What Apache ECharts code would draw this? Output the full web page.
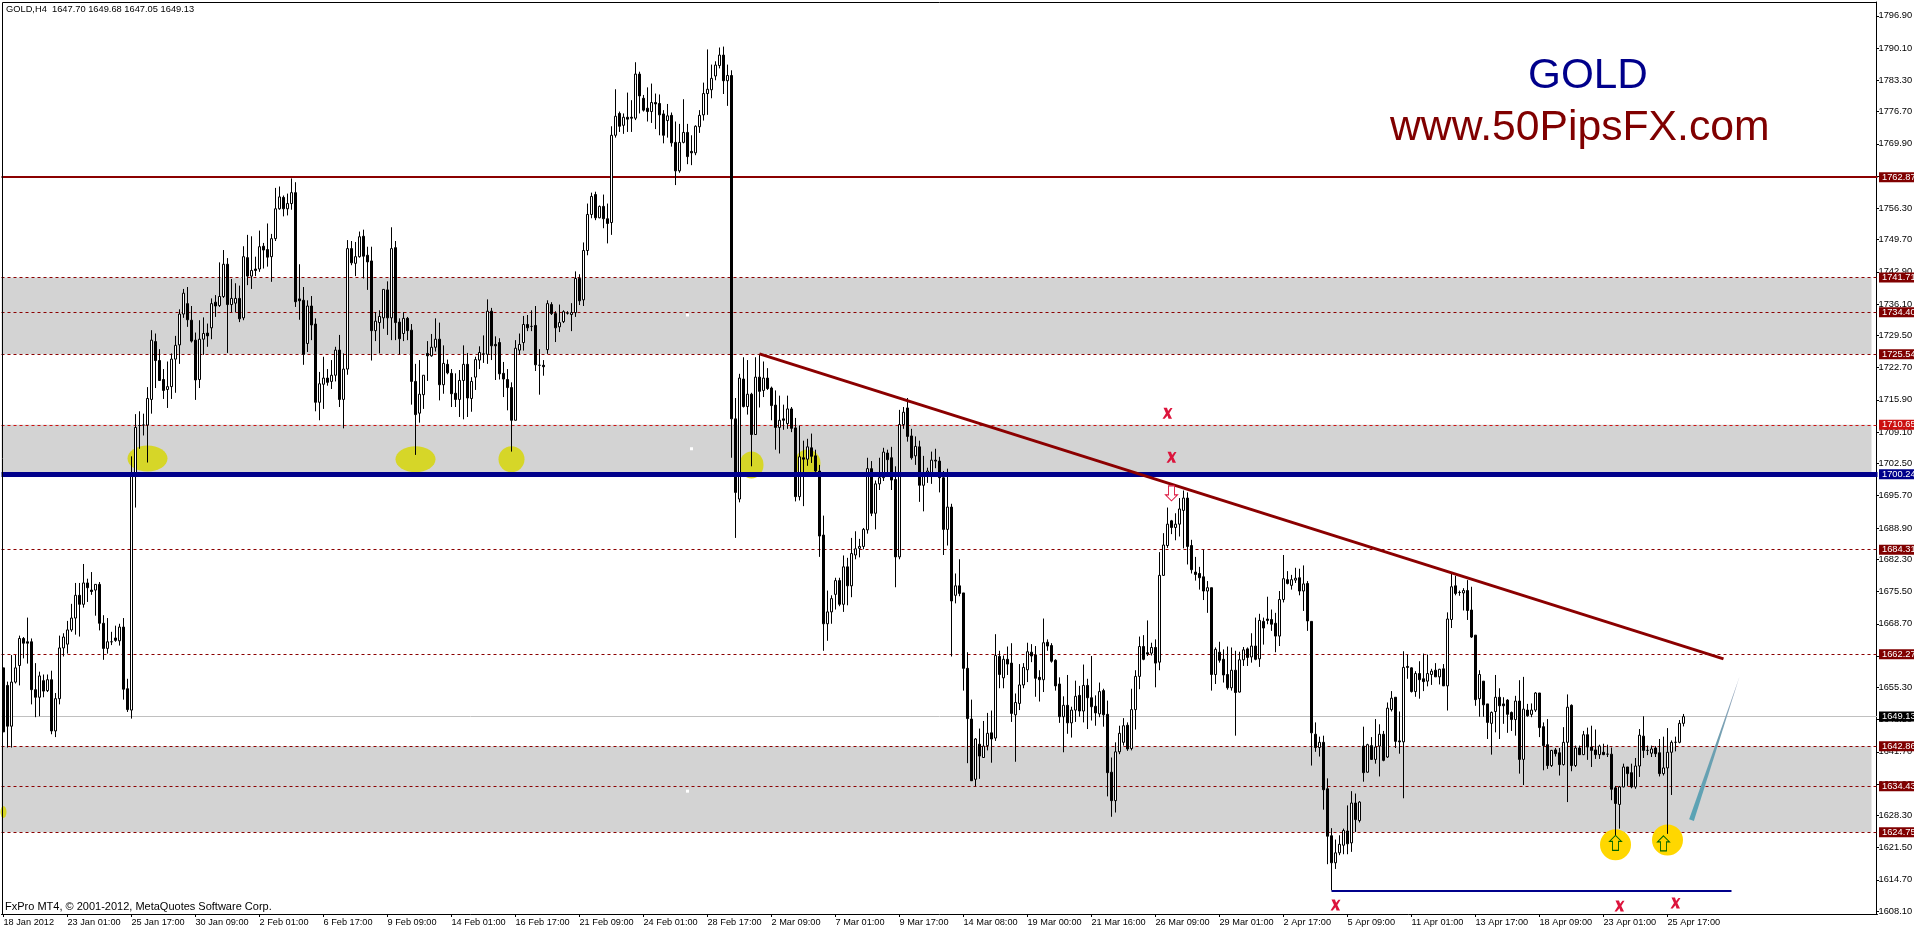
<!DOCTYPE html>
<html>
<head>
<meta charset="utf-8">
<title>GOLD H4</title>
<script src="https://cdn.jsdelivr.net/npm/echarts@6/dist/echarts.min.js"></script>
<style>html,body{margin:0;padding:0;background:#fff}#c{width:1914px;height:931px}</style>
</head>
<body>
<div id="c"></div>
<script>
// Each row: [open, close, low, high]
const janBars = [
[1659.4,1645.9,1645.9,1659.4],[1655.7,1647.1,1642.6,1656.5],[1647.1,1656.4,1642.6,1662.1],[1656.4,1659.4,1656.1,1662.1],
[1659.9,1665.6,1655.7,1666.2],[1665.6,1664.6,1661.4,1665.9],[1664.9,1664.6,1660.3,1670],[1664.9,1654.8,1651.7,1665.6],
[1654.8,1653.2,1649,1660.4],[1653.2,1657.7,1649.2,1658.6],[1656.7,1654.5,1653.2,1658],[1654.6,1656.9,1654.3,1658],
[1656.9,1646.1,1645.4,1658.8],[1646.1,1652.9,1644.8,1654.1],[1652.9,1663.6,1651.7,1666.2],[1663.6,1665.9,1661.8,1666.7],
[1664.4,1667.4,1662.4,1669.3],[1667.4,1669.9,1667,1672.9],[1669.9,1674.7,1666.4,1677.3],[1674.7,1672.8,1666,1677.3],
[1672.8,1677.3,1672.1,1681.3],[1677.3,1676.3,1673.3,1678.2],[1675.8,1675.5,1674.8,1679.6],[1675.8,1677,1670.4,1677],
[1677,1668.8,1667.3,1677.5],[1668.8,1663.5,1661.1,1670.5],[1663.5,1664.9,1662.4,1669.9],[1664.9,1664.9,1664.2,1667],
[1665.7,1665.2,1664.9,1668.3],[1665.1,1668,1664.1,1668.7],[1668,1654.9,1652.7,1669.9],[1655,1650.6,1650.1,1657.1],
[1650.5,1700,1648.7,1704],[1700,1710.1,1693.2,1712.9],[1710.5,1710.5,1705.6,1713.5],[1710.6,1710.6,1708.4,1713],
[1710.6,1716.2,1702.7,1718.6],[1716,1728.5,1713,1730.6],[1728.2,1724.2,1718.4,1729.9],[1724.2,1720,1719.9,1726.6],
[1720.2,1717.9,1716.1,1722.4],[1718.1,1718.7,1714.2,1724],[1718.7,1724.5,1716.1,1725.7],[1724.5,1727.4,1717.4,1729.4],
[1727.5,1734,1723.5,1735],[1734,1738.4,1733.2,1739.3],[1736.2,1732.8,1731.3,1739.7],[1732.7,1728.3,1728,1735.7],
[1728.5,1720.1,1715.9,1730.1],[1720.2,1728.7,1718.4,1732.7],[1728.7,1729.9,1725.4,1733.3],[1730,1729.4,1727.1,1732],
[1731.1,1736.2,1728.7,1737.3],[1736.5,1735.7,1733.4,1738],[1735.8,1737.7,1735.5,1744.9],[1737.7,1744.5,1737.4,1747.5],
[1744.5,1736,1725.8,1745.8],[1736,1737.3,1734.4,1741.4],[1736.3,1737.3,1734.4,1740.5],[1737.3,1733,1732.3,1740]
];
const febBars = [
[1733.2,1746.1,1732.7,1748.3],[1745.9,1742,1740.1,1750.7],[1742,1743.2,1739.3,1750.4],[1743.5,1743.2,1742,1746.1],
[1743.5,1748.2,1742.9,1751.6],[1748.3,1747.5,1743.6,1749],[1747.6,1746,1744,1753.1],[1746.1,1749.9,1740.8,1750.9],
[1749.9,1756.2,1749.4,1760.6],[1756.2,1758.7,1756,1760.9],[1758.6,1756.2,1754.6,1759],[1756.2,1757.3,1754.8,1759.4],
[1757.3,1759.6,1756,1762.6],[1759.6,1736.6,1735.5,1761.8],[1737.2,1736.8,1732.8,1744.5],[1736.9,1725.5,1723.3,1739.7],
[1727.8,1735.7,1726,1736.9],[1735.7,1731.7,1728.5,1737.8],[1731.9,1715.4,1713.5,1733.1],[1715.4,1719.3,1711.6,1721.8],
[1719.2,1720.5,1714,1725],[1720.5,1719.6,1718.9,1722.4],[1719.8,1721.1,1718.2,1724.3],[1721.1,1726.4,1719.8,1727.1],
[1726.4,1716,1714.4,1729.6],[1716,1722.4,1709.9,1725.7],[1722.4,1747.8,1721.2,1749.6],[1747.8,1744.8,1744.3,1749.4],
[1744.7,1746.1,1742,1749.2],[1746.1,1750.3,1745.9,1751.4],[1750.4,1746.2,1741.5,1751.8],[1746.4,1745,1739.1,1748.2],
[1745.2,1730.5,1724.2,1748.2],[1730.5,1732.5,1728.3,1734.4],[1732.2,1733.5,1725.7,1734.8],[1733.2,1739.2,1730.9,1739.2],
[1739.1,1733.2,1729.6,1740.9],[1733.2,1747.8,1728.5,1752.3],[1748,1732.2,1728.5,1749.4],[1732.3,1728.8,1725.5,1733.1],
[1729.9,1733.1,1728.3,1734.4],[1733.1,1730.5,1728.5,1733.4],[1730.6,1719.8,1714.9,1731.9],[1719.8,1712.8,1704.3,1723.5],
[1713.1,1717.1,1711.1,1724.3],[1717,1721.1,1714,1721.1],[1725.7,1725.2,1719.9,1728.3],[1725.2,1727,1725,1729.8],
[1727,1728.7,1726.1,1733.1],[1728.7,1719.1,1715.8,1732.2],[1719.1,1723.6,1717.2,1727.4],[1723.4,1721.6,1721.3,1724.4],
[1721.5,1717.2,1714.4,1722.4],[1717.3,1716,1714.4,1721.5],[1716,1720,1712.3,1722.2],[1720,1723.4,1711.8,1727.4],
[1723.4,1716.3,1712.3,1725.8],[1716.2,1719.8,1713.4,1720.7],[1720.7,1724.4,1718,1725],[1724.3,1725.9,1722.4,1727.2],
[1725.6,1725.6,1723.7,1729.5],[1725.5,1734.6,1723.5,1737.1],[1734.6,1727.3,1724.3,1735.3],[1727.6,1727.3,1720.1,1729.3],
[1728,1721.4,1720.2,1728.9],[1721.5,1720.3,1716.5,1723.9],[1720.2,1718.5,1713.7,1722.4],[1718.5,1711.6,1705,1719.6],
[1711.6,1726.8,1711.6,1728.5],[1726.4,1727.6,1725.4,1729.9],[1728,1731.8,1726.3,1733.6],[1731.8,1731.1,1730.4,1733.8],
[1731.4,1731.4,1730.4,1734.8],[1731.6,1723.3,1722,1735.7],[1723.2,1723.2,1717,1726.6],[1723.2,1722.9,1721,1724.3],
[1726.5,1736.2,1725.6,1736.9],[1736,1734.1,1733.8,1736.5],[1734.1,1731.1,1728.1,1734.6],[1731.3,1732.2,1730.2,1736],
[1732.4,1734.5,1732.1,1734.8],[1734.2,1734.2,1733.9,1734.6],[1733.9,1734.3,1730.4,1736.3],[1734.3,1741.5,1733.4,1743],
[1741.5,1736.8,1735.9,1742.4],[1737,1747.4,1735.7,1749.1],[1747.4,1755,1746.4,1757.3],[1755,1758.8,1754.2,1759.6],
[1759.2,1754.3,1753.8,1759.8],[1754.3,1756.7,1754.2,1756.9],[1756.7,1754.1,1752.1,1759.2],[1754.1,1753.1,1748.9,1757.3],
[1753.3,1771.7,1750.7,1773.6],[1771.7,1775.7,1771.2,1781.4],[1776.3,1773.6,1772.4,1776.7],[1773.8,1775.5,1772,1776.3],
[1775.5,1775.1,1772.4,1780.7],[1775.5,1775.3,1772.4,1779.1],[1775.3,1784.6,1774.9,1787.1],[1784.6,1780,1776.3,1785.1],
[1779.5,1777,1776.7,1780.2],[1777.4,1776.7,1774.6,1781.8],[1776.7,1778.6,1774.3,1782.6],[1778.6,1778.3,1773,1780.5],
[1778.4,1776,1771.7,1780.3],[1776.2,1771.7,1770,1777],[1774.8,1775.8,1771.2,1778.3],[1775.9,1770.1,1769.3,1776.5],
[1770.2,1764.2,1761.2,1774.6],[1764.2,1770.2,1763.8,1774.1],[1770.2,1772.3,1770,1779.3],[1772.3,1767.2,1765.6,1774.1],
[1768.3,1768,1765.4,1771.7],[1768,1773.6,1767.5,1773.8],[1773.5,1775.9,1772.2,1777],[1776,1780.5,1774.8,1782.8],
[1780.5,1781.4,1776,1789.8],[1781.3,1783.7,1779.5,1786.6],[1784.2,1786.5,1783.3,1787.3],[1786.4,1788.6,1785.8,1790.2],
[1788.6,1783.2,1780.4,1790.4],[1783.2,1784.3,1777.9,1786.6],[1784.3,1711.9,1703.7,1785.4],[1711.9,1696.4,1686.8,1716.3],
[1695,1720.5,1694.3,1721.4],[1720.3,1714.5,1714.3,1724.9]
];
const marBars = [
[1714.5,1717.1,1712.8,1724.3],[1717.1,1708.6,1701.9,1717.4],[1708.6,1720.7,1708.6,1724.9],[1720.7,1717.7,1714.3,1725.6],
[1717.9,1720.5,1716.5,1724],[1720.5,1718.3,1718,1722.6],[1718.4,1714.7,1711.6,1718.7],[1714.8,1710.1,1705.4,1717.9],
[1710.1,1711.6,1704.6,1716.8],[1711.9,1711.6,1709.6,1714.9],[1710.9,1714,1709.8,1716.8],[1714,1709.9,1709.1,1714.4],
[1710,1695.5,1694.5,1712.1],[1695.5,1703.9,1694.7,1710.5],[1703.7,1703.4,1693.5,1707.3],[1703.4,1706,1702,1707.7],
[1705.8,1704,1702.6,1708.8],[1704.1,1700.9,1700.5,1705.4],[1700.9,1687.2,1682.8,1702.2],[1687.4,1668.7,1663,1691.5],
[1668.7,1671.2,1665.1,1675.7],[1671.2,1674,1668.7,1674.7],[1674.9,1677.8,1671.7,1678.4],[1677.8,1672.8,1672.4,1678.4],
[1672.8,1680.7,1671.2,1683.1],[1680.7,1676.7,1672.6,1682.6],[1676.7,1683.5,1674.3,1686.8],[1683.2,1684.5,1682.3,1688.2],
[1684.6,1685,1682.7,1686.6],[1685,1688.6,1684.4,1688.9],[1688.5,1701.4,1687.7,1703.7],[1701.4,1692,1691.4,1703],
[1692,1698.2,1688.6,1698.9],[1698.2,1699.5,1696.9,1703.7],[1699.5,1704.9,1698.8,1705.8],[1704.7,1703.3,1700.1,1705.4],
[1703.7,1699,1696.9,1706],[1699.1,1682.8,1676.4,1701.9],[1682.8,1710.7,1682.3,1713.8],[1710.7,1713.3,1709.8,1714.4],
[1714.2,1708.2,1707.1,1716.3],[1708.3,1703.7,1703.3,1709.8],[1704.1,1706.1,1702.2,1708.2],[1706,1697.9,1694.4,1707.3],
[1697.9,1700.5,1692.4,1704.1],[1700.5,1700.9,1698.4,1701.6],[1700.6,1703.2,1698.2,1705],[1703.2,1703,1701.5,1705.6],
[1703,1699.5,1696.4,1703.9],[1699.5,1688.6,1683.2,1700.9],[1688.6,1693.3,1685.2,1701.4],[1693.3,1673.5,1661.8,1694],
[1674.7,1676.7,1673,1679.3],[1676.7,1675.1,1674.5,1682.3],[1675.2,1659.3,1654.6,1675.2],[1659.3,1648.7,1639.3,1662.7],
[1648.6,1635.6,1635.6,1652.7],[1635.9,1644.4,1634.4,1644.6],[1643.3,1640.8,1636,1646.6],[1640.5,1642.9,1640.5,1648.2],
[1643,1645.6,1642,1649.9],[1645.7,1644.4,1639.4,1650.4],[1644.6,1662,1644,1666.5],[1661.8,1658,1655.1,1663],
[1657.3,1661.2,1655.1,1662],[1661.2,1660.2,1657.9,1663.9],[1660.4,1649.8,1648,1664.6],[1649.5,1652.1,1639.6,1654],
[1651.9,1655.8,1650.5,1660.2],[1655.8,1659.5,1655.1,1660.4],[1659,1662.8,1656.4,1664.7],[1662.7,1661.9,1660.6,1664.4],
[1662.1,1657.2,1653.3,1664],[1657.4,1656.9,1652.3,1658.9],[1656.9,1664.7,1654.3,1669.8],[1664.8,1664,1663,1665.4],
[1664.1,1660.8,1660.5,1664.6],[1661,1655.6,1654.6,1661.2],[1656,1649.1,1647.8,1657.4],[1649.1,1651.5,1641.6,1653.4],
[1651.5,1647.8,1645.5,1657.9],[1647.8,1650.5,1644.7,1651.2],[1650.5,1653.4,1648,1656.7],[1653.6,1650.3,1649.1,1655.6],
[1650.3,1655.7,1647.9,1660.1],[1655.7,1653.1,1646.5,1657.1],[1653.1,1651.2,1648.3,1661.9],[1651.3,1649.9,1647.2,1653.6],
[1649.7,1654.4,1649,1656.3],[1654.6,1649.5,1647,1655],[1649.6,1637.3,1632.3,1652.5],[1637.4,1631.4,1628,1640.5],
[1631.4,1641.7,1628.9,1643.7],[1641.7,1645.6,1641.2,1647.2],[1643.7,1647.2,1643,1648.8],[1647.3,1642.3,1641.9,1647.9],
[1642.4,1650.6,1642,1655],[1650.6,1657.6,1646.4,1658.9],[1657.6,1663.9,1654.9,1666],[1663.9,1661.2,1661,1666.3],
[1662.6,1662.3,1661.9,1669.4],[1662.5,1663.7,1662,1664.7],[1663.7,1660.4,1655.3,1665.4],[1660.6,1678.9,1658.9,1683.8],
[1678.9,1685.3,1678.8,1687.8],[1685.2,1689.7,1684.7,1693.2],[1690.4,1689,1687.6,1690.6],[1689,1689.7,1686.3,1692],
[1689.7,1692.9,1687.1,1695.2],[1692.6,1695.2,1684.6,1696.8],[1695.2,1685,1681.2,1696.4],[1685.2,1680.1,1679.3,1686.4],
[1679.6,1679.1,1677.8,1682.8],[1679.3,1678.4,1675.9,1680.7],[1678.6,1675.6,1673.7,1684.3],[1675.6,1676.3,1671,1677.7],
[1676.3,1658,1654.6,1676.3],[1658,1663.3,1656,1663.7],[1662.7,1661,1660.5,1664.9],[1661.2,1657.9,1656.3,1663.3],
[1658,1655.2,1654.8,1663.9],[1655.2,1658.9,1654.6,1663.7],[1658.9,1654.2,1645.1,1663],[1654.3,1661.1,1654.2,1662.8],
[1661.1,1663.2,1659.8,1663.8],[1663.4,1661.6,1659.8,1663.7],[1661.7,1664,1660.5,1666.7],[1664,1661.2,1661,1670],
[1661.3,1669.4,1659.6,1670.8],[1669.2,1667.8,1664.3,1670]
];
const aprBars = [
[1669.7,1669.4,1668.6,1674.4],[1669.6,1668.6,1667.2,1671.7],[1668.8,1666.1,1662.7,1671],[1666.1,1673.8,1664,1675.6],
[1673.8,1678.2,1673.2,1683.2],[1678,1677.2,1677,1679.8],[1676.8,1678,1675.9,1679],[1677.9,1678.3,1677.3,1680.5],
[1678.4,1675.6,1674.7,1680.3],[1675.6,1677.1,1671.4,1681],[1677.2,1669.3,1667.2,1677.7],[1669.2,1645.7,1638.8,1669.2],
[1645.4,1642.6,1641.7,1647.9],[1642.6,1643.7,1640.7,1644.9],[1643.7,1633.7,1629.5,1645.1],[1633.9,1623.9,1618,1636.1],
[1624,1618.3,1612.5,1625.6],[1618.3,1620.4,1617,1623.2],[1620.4,1622.2,1619.9,1624.1],[1622,1625.1,1620.1,1625.5],
[1625,1622.3,1620.1,1630.4],[1622.5,1630.9,1620.6,1633.4],[1630.9,1627.4,1624.8,1632.9],[1627.2,1631.1,1626.8,1631.3],
[1642.9,1637.3,1635.4,1647],[1637.4,1643.2,1637.3,1643.4],[1643,1640.1,1640,1644.8],[1640.1,1642.7,1639.2,1648.6],
[1642.9,1645.4,1636.5,1647.5],[1645.4,1639.9,1639.7,1646.1],[1640.6,1650.9,1640.4,1652.1],[1650.6,1653,1650.2,1654.5],
[1653.2,1643.9,1642.5,1653.2],[1644,1643.8,1641.3,1650.2],[1643.8,1659.5,1631.9,1662.9],[1659.7,1659.5,1657.1,1662.2],
[1659.4,1654.4,1654.2,1659.5],[1654.4,1658.2,1653.3,1658.7],[1658.2,1656.9,1652.9,1660.8],[1657.1,1656.5,1654.5,1662.4],
[1656.6,1658.2,1655.5,1662.2],[1658,1658.7,1655.8,1659.2],[1658.9,1657.5,1657.5,1660.4],[1657.5,1659.1,1655.9,1659.2],
[1659.2,1655.6,1655.6,1660.2],[1655.6,1669.7,1650.4,1671.1],[1669.6,1676.5,1667.8,1679.4],[1676.7,1675.1,1674.7,1678.8],
[1675.3,1675.3,1674.6,1675.7],[1675.2,1675.7,1671.5,1676.2],[1675.7,1671.5,1669.5,1677.9],[1671.6,1665.9,1665.7,1676.5],
[1666.3,1652.7,1651.4,1666.3],[1652.9,1658,1649.1,1658.9],[1656.6,1651.6,1649.1,1656.6],[1651.8,1647.9,1644.4,1651.8],
[1647.7,1650,1641.1,1650.2],[1650.2,1653.2,1645.8,1657.9],[1653.2,1651.4,1644.4,1655.1],[1651.8,1651.4,1647.6,1653.2],
[1652.6,1649.6,1645.7,1652.8],[1650,1648.5,1646.1,1650.2],[1648.5,1652.4,1645.1,1653.5],[1652.4,1640.1,1637.1,1656.8],
[1640.1,1650.7,1634.7,1657.5],[1650.5,1649.3,1649.1,1651.8],[1649.6,1650.5,1649,1651.9],[1650.5,1654.1,1650.1,1654.3],
[1654.1,1646.8,1644.8,1654.1],[1647,1643,1637.8,1647.9],[1643.2,1638.8,1638.1,1648.6],[1638.8,1642,1638.5,1642.1],
[1642.1,1641.3,1640.7,1642.5],[1641.5,1639,1636.7,1642.5],[1639,1643.7,1638.8,1646.9],[1643.7,1651.1,1631.1,1653.8],
[1651.5,1638.8,1637.6,1651.7],[1638.8,1642.5,1638.5,1643],[1642.5,1641.1,1641,1643],[1641.1,1645.3,1641,1646.1],
[1645.3,1642.7,1640,1646.8],[1642.7,1642,1638.5,1647.2],[1642.1,1641.1,1640.2,1646.4],[1641.1,1642.9,1640.2,1643.2],
[1641.6,1641.1,1641,1643.4],[1641.2,1641.2,1640.6,1643.2],[1641.2,1633.8,1631.5,1642.6],[1634.1,1630.8,1623.4,1634.5],
[1630.6,1634.3,1625.5,1634.5],[1634.3,1638.5,1634.2,1639.2],[1638.5,1637.1,1634.5,1638.5],[1637.3,1634.3,1634,1639.2],
[1634.3,1638.7,1633.9,1640.4],[1638.7,1645.2,1636.4,1646.5],[1645,1642,1640.4,1649.2],[1642,1642,1641,1643],
[1641.4,1642.3,1640.6,1643],[1642.5,1641.3,1640.6,1642.9],[1641.5,1637.1,1636.5,1644.4],[1637.1,1638.3,1636.7,1644.9],
[1638.3,1641.6,1624.4,1646.7],[1641.6,1643.7,1632.6,1644.1],[1643.7,1643.7,1641.8,1644.9],[1643.7,1647.7,1643.5,1648.4],
[1647.7,1649.13,1647.05,1649.68]
];
const tickLabels = ['18 Jan 2012','23 Jan 01:00','25 Jan 17:00','30 Jan 09:00','2 Feb 01:00','6 Feb 17:00','9 Feb 09:00','14 Feb 01:00','16 Feb 17:00','21 Feb 09:00','24 Feb 01:00','28 Feb 17:00','2 Mar 09:00','7 Mar 01:00','9 Mar 17:00','14 Mar 08:00','19 Mar 00:00','21 Mar 16:00','26 Mar 09:00','29 Mar 01:00','2 Apr 17:00','5 Apr 09:00','11 Apr 01:00','13 Apr 17:00','18 Apr 09:00','23 Apr 01:00','25 Apr 17:00'];
const priceTicks = [1796.9,1790.1,1783.3,1776.7,1769.9,1763.1,1756.3,1749.7,1742.9,1736.1,1729.5,1722.7,1715.9,1709.1,1702.5,1695.7,1688.9,1682.3,1675.5,1668.7,1661.9,1655.3,1648.5,1641.7,1634.9,1628.3,1621.5,1614.7,1608.1];
const dashedLevels = [1741.71,1734.40,1725.54,1684.31,1662.27,1642.86,1634.43,1624.75];
const redLevel = 1710.65;
const resistanceLevel = 1762.87;
const pivotLevel = 1700.24;
const lastPrice = 1649.13;
const bands = [[1741.71,1725.54],[1710.65,1700.24],[1642.86,1624.75]];
const trendFrom = [189,1725.6], trendTo = [430,1661.3];
const supportFrom = [332,1612.4], supportTo = [432,1612.4];
const tealFrom = [422,1627.3], tealTo = [434,1657.5];
const yellowSpots = [[36,1703.55],[103,1703.4],[127,1703.4],[187,1702.2],[201,1702.6],[0,1629]];
const goldSpots = [[403,1622.1],[416,1623.1]];
const crossMarks = [[291,1713.1],[292,1703.8],[333,1609.4],[404,1609.2],[418,1609.8]];
const downArrows = [[292,1696.2]];
const upArrows = [[403,1622.5],[415,1622.4]];
const whiteDots = [[171,1733.8],[172,1705.6],[171,1633.4]];

const candles = janBars.concat(febBars, marBars, aprBars);
const SLOTS = 469;
const categories = Array.from({length: SLOTS}, (_, i) => String(i));
const TXT = '"Liberation Sans", Arial, sans-serif';
const DARK = '#800000';
const flag = (bg) => ({show:true, position:'end', distance:1.5, formatter:(p)=>p.value.toFixed(2), color:'#fff',
  backgroundColor:bg, padding:[1,6,0,3], fontFamily:TXT, fontSize:9.3, lineHeight:9});

const lowerLines = dashedLevels.map(v => ({yAxis:v, lineStyle:{color:'#8b0000',type:[3,3],width:1}, label:flag(DARK)}));
lowerLines.push({yAxis:redLevel, lineStyle:{color:'#cc1010',type:[3,3],width:1}, label:flag('#cc1010')});
lowerLines.push({yAxis:resistanceLevel, lineStyle:{color:'#8b0000',type:'solid',width:2}, label:flag(DARK)});
lowerLines.push({yAxis:lastPrice, lineStyle:{color:'#c0c0c0',type:'solid',width:1}, label:flag('#000')});

const X_PATH = 'path://M1,0 L4.5,0 L5.6,3 L8,0.3 L10,0.3 L6.8,5 L9.5,10 L6,10 L5,7 L2.2,10 L0,10 L3.5,5 Z';
const ARROW_DOWN = 'path://M3,0 L9,0 L9,9 L12,9 L6,15 L0,9 L3,9 Z';
const ARROW_UP = 'path://M6,0 L12,6 L9,6 L9,15 L3,15 L3,6 L0,6 Z';

const chart = echarts.init(document.getElementById('c'), null, {renderer:'canvas'});
chart.setOption({
  animation:false,
  backgroundColor:'#fff',
  grid:{left:1.5, top:2, width:1876, height:912, containLabel:false, outerBoundsMode:'none'},
  xAxis:{type:'category', data:categories, boundaryGap:true,
    axisLine:{show:true, lineStyle:{color:'#000',width:1}, onZero:false},
    axisTick:{show:true, alignWithLabel:true, length:3, lineStyle:{color:'#000'}, interval:(i)=>i%16===0 && i<=416},
    axisLabel:{show:true, color:'#000', fontFamily:TXT, fontSize:9.2, margin:4, align:'left',
      interval:(i)=>i%16===0 && i<=416, formatter:(v,i)=>tickLabels[i/16]||'', hideOverlap:false},
    splitLine:{show:false}},
  yAxis:{type:'value', position:'right', min:1607.5, max:1799.8, offset:-1, scale:true,
    axisLine:{show:true, lineStyle:{color:'#000',width:1}},
    axisTick:{show:true, length:2.5, lineStyle:{color:'#000'}, customValues:priceTicks},
    axisLabel:{show:true, color:'#000', fontFamily:TXT, fontSize:9.3, margin:2, align:'left',
      customValues:priceTicks, formatter:(v)=>v.toFixed(2), showMinLabel:true, showMaxLabel:true, hideOverlap:false},
    splitLine:{show:false}},
  graphic:[
    {type:'line', silent:true, z:50, shape:{x1:2.5,y1:2.5,x2:1876.5,y2:2.5}, style:{stroke:'#000',lineWidth:1}},
    {type:'line', silent:true, z:50, shape:{x1:2.5,y1:2.5,x2:2.5,y2:914.5}, style:{stroke:'#000',lineWidth:1}},
    {type:'text', silent:true, z:50, left:6, top:5, style:{text:'GOLD,H4  1647.70 1649.68 1647.05 1649.13', fill:'#000', font:'9.3px '+TXT}},
    {type:'text', silent:true, z:50, left:5, top:901, style:{text:'FxPro MT4, © 2001-2012, MetaQuotes Software Corp.', fill:'#000', font:'11px '+TXT}},
    {type:'text', silent:true, z:50, left:1528, top:55, style:{text:'GOLD', fill:'#00008b', font:'42.3px '+TXT}},
    {type:'text', silent:true, z:50, left:1390, top:107, style:{text:'www.50PipsFX.com', fill:'#800000', font:'42.7px '+TXT}}
  ],
  series:[
    {type:'line', name:'bands', data:[], z:0, silent:true,
      markArea:{silent:true, z:0, itemStyle:{color:'#d3d3d3'}, label:{show:false},
        data:bands.map(b=>[{yAxis:b[0]},{yAxis:b[1],xAxis:467}])}},
    {type:'line', name:'levels', data:[], z:1, silent:true,
      markLine:{silent:true, z:1, symbol:'none', animation:false, data:lowerLines}},
    {type:'scatter', name:'yellow', data:yellowSpots, z:1, silent:true, clip:true,
      symbol:'circle', symbolSize:(v,p)=>[[40,26],[40,26],[26,26],[24,27],[26,27],[6,12]][p.dataIndex],
      itemStyle:{color:'#d6d628',opacity:1}},
    {type:'scatter', name:'gold', data:goldSpots, z:1, silent:true, symbol:'circle', symbolSize:31,
      itemStyle:{color:'#ffd700',opacity:1}},
    {type:'scatter', name:'dots', data:whiteDots, z:1, silent:true, symbol:'rect', symbolSize:3,
      itemStyle:{color:'#fff',opacity:1}},
    {type:'candlestick', name:'GOLD,H4', data:candles, z:2, barWidth:3, silent:true, progressive:0, large:false,
      itemStyle:{color:'#fff',color0:'#000',borderColor:'#000',borderColor0:'#000',borderColorDoji:'#000',borderWidth:1}},
    {type:'line', name:'overlays', data:[], z:5, silent:true,
      markLine:{silent:true, z:5, symbol:'none', animation:false, data:[
        {yAxis:pivotLevel, lineStyle:{color:'#00008b',type:'solid',width:5}, label:flag('#00008b')},
        [{coord:trendFrom, lineStyle:{color:'#8b0000',type:'solid',width:3}, label:{show:false}},{coord:trendTo}],
        [{coord:supportFrom, lineStyle:{color:'#00008b',type:'solid',width:2}, label:{show:false}},{coord:supportTo}]
      ]}},
    {type:'custom', name:'teal', z:5, silent:true, data:[tealFrom.concat(tealTo)],
      encode:{x:[0,2],y:[1,3]},
      renderItem:(params,api)=>{
        const a=api.coord([api.value(0),api.value(1)]), b=api.coord([api.value(2),api.value(3)]);
        const dx=b[0]-a[0],dy=b[1]-a[1],len=Math.hypot(dx,dy),nx=-dy/len*2.5,ny=dx/len*2.5;
        return {type:'polygon', shape:{points:[[a[0]+nx,a[1]+ny],[a[0]-nx,a[1]-ny],[b[0],b[1]]]},
          style:{fill:new echarts.graphic.LinearGradient(0,1,0,0,[{offset:0,color:'#58a3b5'},{offset:0.55,color:'#6f9fb0'},{offset:1,color:'#a0a8c0'}])}};
      }},
    {type:'scatter', name:'crosses', data:crossMarks, z:6, silent:true, symbol:X_PATH, symbolSize:[10,11], symbolKeepAspect:false,
      itemStyle:{color:'#dc143c',opacity:1}},
    {type:'scatter', name:'down', data:downArrows, z:6, silent:true, symbol:ARROW_DOWN, symbolSize:[12,15],
      itemStyle:{color:'#fff',borderColor:'#dc143c',borderWidth:1,opacity:1}},
    {type:'scatter', name:'up', data:upArrows, z:6, silent:true, symbol:ARROW_UP, symbolSize:[12,15],
      itemStyle:{color:'#ffd700',borderColor:'#006400',borderWidth:1,opacity:1}}
  ]
});
</script>
</body>
</html>
